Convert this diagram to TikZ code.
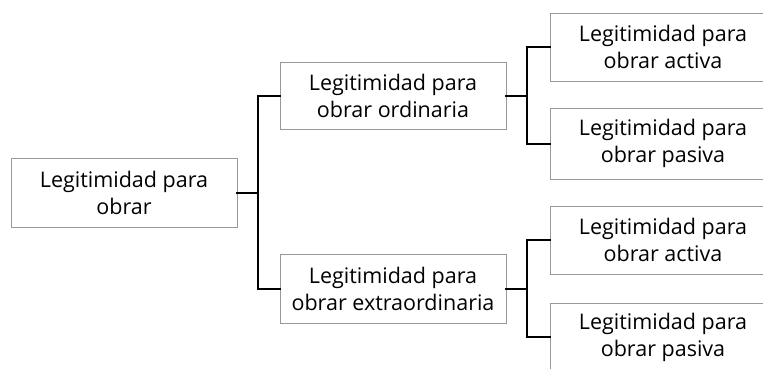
\documentclass[tikz,border=0pt]{standalone}
\usepackage{fontspec}
\setmainfont{Open Sans}
\begin{document}
\begin{tikzpicture}[x=1pt,y=-1pt,
  box/.style={draw=black!40, line width=0.9pt, fill=white, minimum width=226pt, align=center,
    font=\fontsize{21.5}{27}\selectfont, inner sep=0pt},
  conn/.style={line width=2pt, black, line cap=rect}]
\useasboundingbox (0,0) rectangle (763,368);
\clip (0,0) rectangle (763,368);
\node[box, minimum height=69pt] (root) at (124,192.5) {Legitimidad para\\obrar};
\node[box, minimum height=67pt] (mid1) at (393,95.5) {Legitimidad para\\obrar ordinaria};
\node[box, minimum height=69pt] (mid2) at (393,288.5) {Legitimidad para\\obrar extraordinaria};
\node[box, minimum height=68pt] (r1) at (663,47) {Legitimidad para\\obrar activa};
\node[box, minimum height=71pt] (r2) at (663,143.5) {Legitimidad para\\obrar pasiva};
\node[box, minimum height=68pt] (r3) at (663,240) {Legitimidad para\\obrar activa};
\node[box, minimum height=68pt] (r4) at (663,337) {Legitimidad para\\obrar pasiva};
\coordinate (j1) at (258,192.5);
\coordinate (j2) at (527,95.5);
\coordinate (j3) at (527,288.5);
\draw[conn] (root.east) -- (j1);
\draw[conn] (mid1.west) -| (j1) |- (mid2.west);
\draw[conn] (mid1.east) -- (j2);
\draw[conn] (r1.west) -| (j2) |- (r2.west);
\draw[conn] (mid2.east) -- (j3);
\draw[conn] (r3.west) -| (j3) |- (r4.west);
\end{tikzpicture}
\end{document}
